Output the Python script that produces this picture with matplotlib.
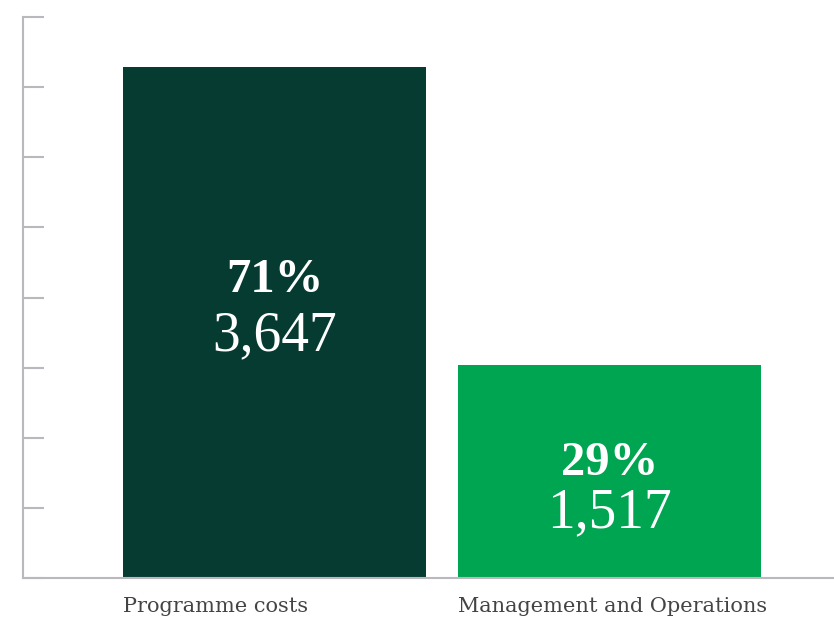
import matplotlib.pyplot as plt

categories = ['Programme costs', 'Management and Operations']
amounts = [3647, 1517]
shares = [71, 29]
colors = ['#063b31', '#00a551']

# baselines of the two text lines inside each bar, in data units
pct_y = [2039, 734]
num_y = [1626, 364]

fig = plt.figure(figsize=(8.34, 6.19), dpi=100)
ax = fig.add_axes([23 / 834, 41 / 619, 811 / 834, 561 / 619])

width = 0.904
xs = range(len(categories))
ax.bar(xs, amounts, width=width, color=colors)

for x, amt, pct, py, ny in zip(xs, amounts, shares, pct_y, num_y):
    ax.text(x, py, f'{pct}%', ha='center', va='baseline', color='white',
            fontsize=35, fontweight='bold', family='Liberation Serif')
    ax.text(x, ny, f'{amt:,}', ha='center', va='baseline', color='white',
            fontsize=40, family='Liberation Serif')

ax.set_xlim(-0.7507, 1.670)
ax.set_ylim(0, 4000)
ax.set_yticks(range(0, 4001, 500))
ax.set_yticklabels([])
ax.tick_params(axis='y', direction='in', length=15, width=1.5, color='#b8b8bd')

ax.set_xticks([x - width / 2 for x in xs])
ax.set_xticklabels(categories, ha='left', fontsize=15,
                   family='DejaVu Serif', color='#444444')
ax.tick_params(axis='x', length=0, pad=14)

for side in ['top', 'right']:
    ax.spines[side].set_visible(False)
for side in ['left', 'bottom']:
    ax.spines[side].set_color('#b8b8bd')
    ax.spines[side].set_linewidth(1.5)

fig.savefig('out.png', dpi=100)
